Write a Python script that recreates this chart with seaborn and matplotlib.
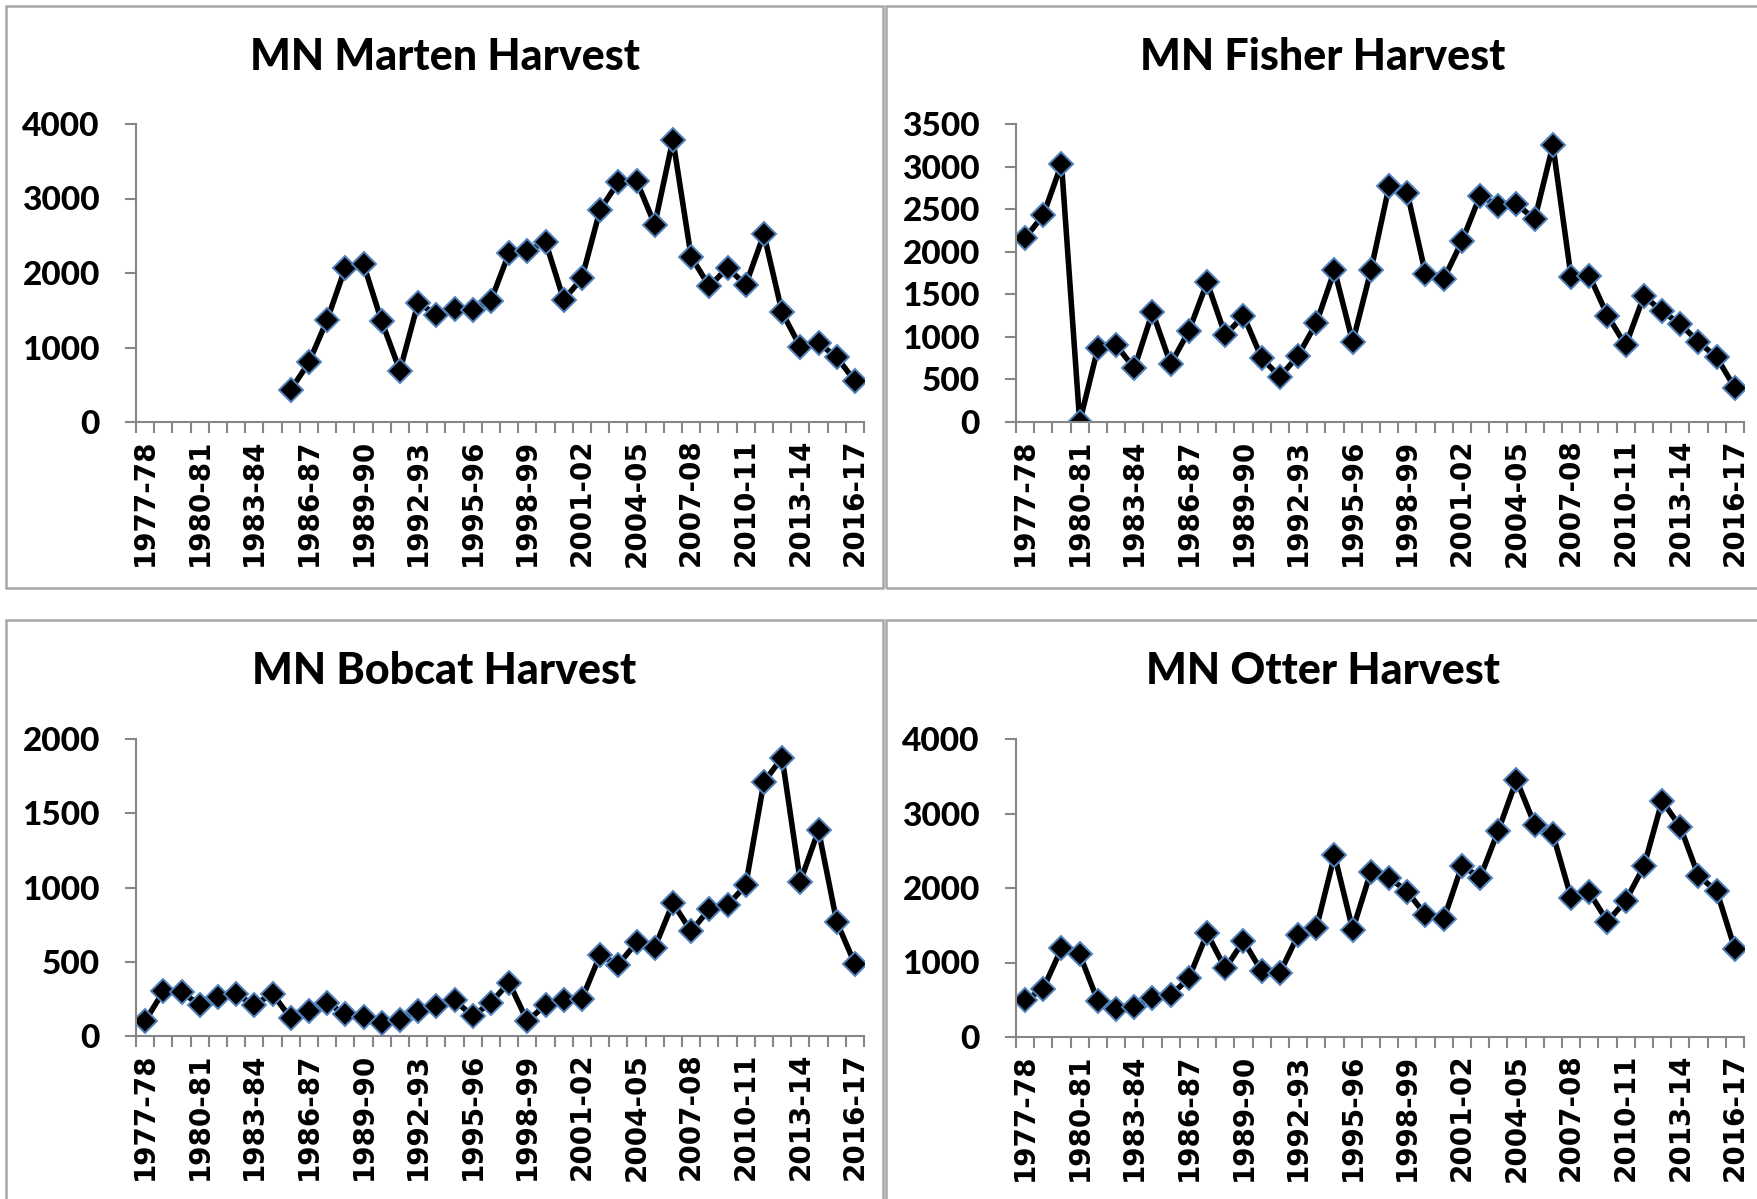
import matplotlib
matplotlib.use("Agg")
import matplotlib.pyplot as plt
from matplotlib.patches import Rectangle
import numpy as np
import pandas as pd
import seaborn as sns

# seasons 1977-78 .. 2016-17
seasons = [f"{y}-{str(y + 1)[-2:]}" for y in range(1977, 2017)]

# Marten harvest starts in 1985-86 (no data before)
marten = [np.nan] * 8 + [
    430, 800, 1370, 2070, 2120, 1350, 690, 1600, 1440, 1520,
    1500, 1630, 2270, 2290, 2420, 1640, 1930, 2850, 3220, 3240,
    2650, 3790, 2220, 1820, 2070, 1840, 2520, 1470, 1010, 1060,
    870, 550]

fisher = [2160, 2430, 3030, 0, 870, 905, 630, 1290, 680, 1070,
          1640, 1020, 1250, 750, 530, 780, 1160, 1780, 940, 1780,
          2770, 2690, 1740, 1680, 2120, 2660, 2540, 2560, 2380, 3250,
          1700, 1720, 1250, 900, 1480, 1300, 1150, 940, 760, 400]

bobcat = [100, 300, 295, 210, 265, 280, 210, 285, 120, 165,
          220, 150, 130, 85, 110, 170, 205, 240, 135, 225,
          360, 100, 210, 240, 250, 545, 480, 630, 595, 895,
          705, 855, 880, 1015, 1710, 1875, 1040, 1385, 770, 485]

otter = [490, 650, 1190, 1110, 480, 380, 400, 530, 560, 790,
         1390, 920, 1290, 880, 860, 1370, 1460, 2440, 1440, 2220,
         2140, 1950, 1640, 1580, 2300, 2140, 2770, 3450, 2850, 2720,
         1870, 1940, 1550, 1830, 2290, 3170, 2820, 2160, 1960, 1180]

titles = ["MN Marten Harvest", "MN Fisher Harvest", "MN Bobcat Harvest", "MN Otter Harvest"]
series = [marten, fisher, bobcat, otter]
ymax = [4000, 3500, 2000, 4000]
ystep = [1000, 500, 500, 1000]

sns.set_style("white")
plt.rcParams["font.family"] = ["Lato", "DejaVu Sans"]
plt.rcParams["text.color"] = "black"

W, H = 1758, 1199
fig = plt.figure(figsize=(W / 100, H / 100), dpi=100)

# pixel layout: (axis left, axis right, y top, y bottom), panel box
axes_px = [(136, 864, 124, 422), (1016, 1744, 124, 422),
           (136, 864, 739, 1036), (1016, 1744, 739, 1037)]
boxes_px = [(6, 6, 883, 588), (886, 6, 1762, 588),
            (6, 620, 883, 1204), (886, 620, 1762, 1204)]

grey = "#868686"
x = np.arange(len(seasons))

for i in range(4):
    bx0, by0, bx1, by1 = boxes_px[i]
    fig.add_artist(Rectangle((bx0 / W, 1 - by1 / H), (bx1 - bx0) / W, (by1 - by0) / H,
                             transform=fig.transFigure, fill=False,
                             edgecolor="#a6a6a6", linewidth=1.8, zorder=0))
    l, r, t, b = axes_px[i]
    ax = fig.add_axes([l / W, 1 - b / H, (r - l) / W, (b - t) / H])
    df = pd.DataFrame({"idx": x, "value": series[i]}).dropna()
    sns.lineplot(data=df, x="idx", y="value", ax=ax, color="black", linewidth=4,
                 marker="D", markersize=12.5, markerfacecolor="black",
                 markeredgecolor="#4f81bd", markeredgewidth=1.4)
    ax.set_xlim(-0.5, len(seasons) - 0.5)
    ax.set_ylim(0, ymax[i])
    yt = np.arange(0, ymax[i] + 1, ystep[i])
    ax.set_yticks(yt)
    ax.set_yticklabels([str(v) for v in yt])
    # labels every third season, tick marks between categories
    ax.set_xticks(x[::3])
    ax.set_xticklabels([seasons[k] for k in x[::3]])
    ax.set_xticks(np.arange(-0.5, len(seasons) + 0.5, 1.0), minor=True)
    ax.tick_params(axis="x", which="major", length=0, pad=12, labelcolor="black")
    ax.tick_params(axis="x", which="minor", length=8, width=1.5, color=grey,
                   direction="out", bottom=True)
    ax.tick_params(axis="y", length=8, width=1.5, color=grey, direction="out",
                   pad=18, left=True, labelcolor="black")
    for lab in ax.get_xticklabels():
        lab.set_rotation(90)
        lab.set_fontsize(20)
        lab.set_fontweight("bold")
        lab.set_fontfamily("DejaVu Sans")
    for lab in ax.get_yticklabels():
        lab.set_fontsize(24)
        lab.set_fontweight("black")
    for side in ["top", "right"]:
        ax.spines[side].set_visible(False)
    for side in ["left", "bottom"]:
        ax.spines[side].set_color(grey)
        ax.spines[side].set_linewidth(1.5)
    ax.set_xlabel("")
    ax.set_ylabel("")
    fig.text(((bx0 + min(bx1, 1760)) / 2) / W, 1 - (by0 + 51) / H, titles[i],
             ha="center", va="center", fontsize=31, fontweight="black", color="black")

fig.savefig("out.png", dpi=100)
